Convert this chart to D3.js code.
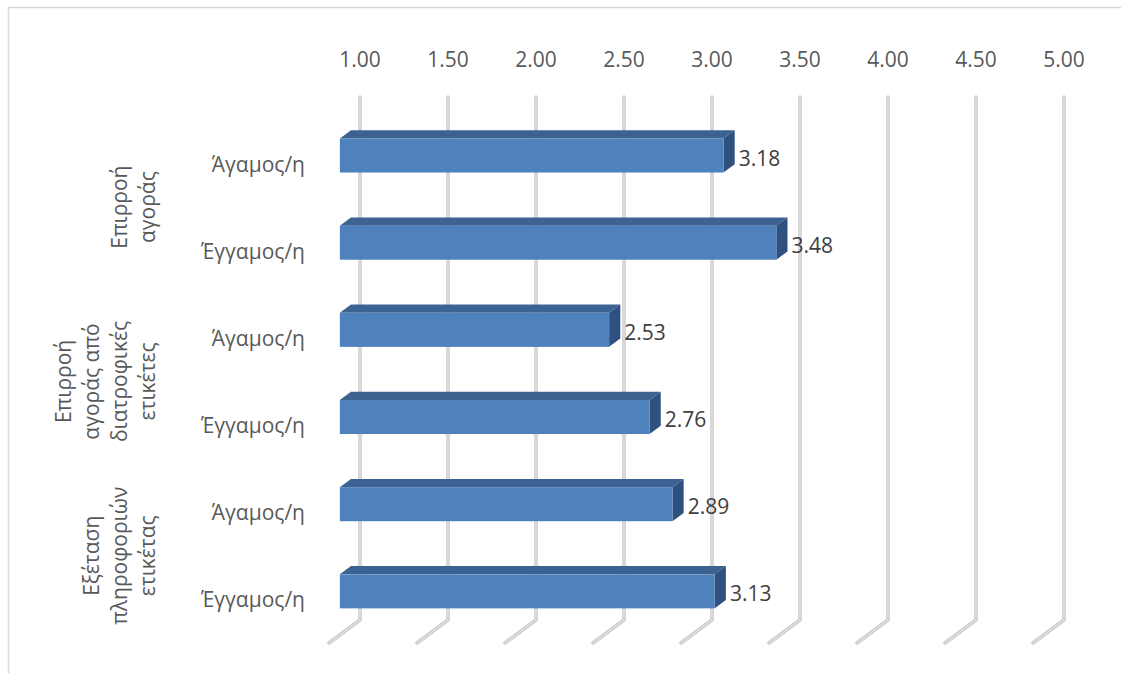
<!DOCTYPE html>
<html>
<head>
<meta charset="utf-8">
<script src="https://cdn.jsdelivr.net/npm/d3@7"></script>
<style>
  html, body { margin: 0; padding: 0; background: #fff; }
  svg { display: block; }
  text { font-family: "Open Sans", "Noto Sans", sans-serif; }
</style>
</head>
<body>
<svg id="chart" width="1121" height="673"></svg>
<script>
// Bars, top to bottom
const categories = ["Άγαμος/η", "Έγγαμος/η", "Άγαμος/η", "Έγγαμος/η", "Άγαμος/η", "Έγγαμος/η"];
const values = [3.18, 3.48, 2.53, 2.76, 2.89, 3.13];
// Group captions, each covering two consecutive bars
const groupLabels = [
  ["Επιρροή", "αγοράς"],
  ["Επιρροή", "αγοράς από", "διατροφικές", "ετικέτες"],
  ["Εξέταση", "πληροφοριών", "ετικέτας"]
];
const tickValues = [1.0, 1.5, 2.0, 2.5, 3.0, 3.5, 4.0, 4.5, 5.0];

const FONT = 21;
const svg = d3.select("#chart");

// Chart-area frame
svg.append("rect")
  .attr("x", 8.5).attr("y", 7.5)
  .attr("width", 1140).attr("height", 700)
  .attr("fill", "none").attr("stroke", "#d9d9d9").attr("stroke-width", 1.5);

// Scales on the back wall of the 3-D plot
const x = d3.scaleLinear().domain([1, 5]).range([360, 1064]);
const y = d3.scaleBand().domain(d3.range(categories.length)).range([97, 620]);

// Oblique depth: moving toward the viewer shifts left and down
const depth = t => [-31 * t, 23 * t];
const FRONT = 0.65, BACK = 0.29;
const barH = y.bandwidth() * 0.39;

// Gridlines: vertical on the back wall, then along the floor toward the viewer
const grid = svg.append("g");
tickValues.forEach(v => {
  const gx = x(v), top = y.range()[0], bot = y.range()[1];
  const [dx, dy] = depth(1);
  const pts = [[gx, top], [gx, bot], [gx + dx, bot + dy]];
  grid.append("polyline").attr("points", pts.join(" "))
    .attr("fill", "none").attr("stroke", "#c9c9c9").attr("stroke-width", 3.5)
    .attr("stroke-linecap", "round").attr("stroke-linejoin", "round");
  grid.append("polyline").attr("points", pts.join(" "))
    .attr("fill", "none").attr("stroke", "#e4e4e4").attr("stroke-width", 1.2)
    .attr("stroke-linecap", "round").attr("stroke-linejoin", "round");
});

// Top axis tick labels
svg.append("g").selectAll("text").data(tickValues).join("text")
  .attr("x", d => x(d)).attr("y", 67)
  .attr("text-anchor", "middle")
  .attr("font-size", FONT).attr("fill", "#595959")
  .text(d => d3.format(".2f")(d));

// 3-D bars
const [fdx, fdy] = depth(FRONT);
const [bdx, bdy] = depth(BACK);
const bars = svg.append("g");
values.forEach((v, i) => {
  const cy = y(i) + y.bandwidth() / 2;
  const fx0 = x(1) + fdx, fx1 = x(v) + fdx;
  const fy0 = cy + fdy - barH / 2, fy1 = cy + fdy + barH / 2;
  const bx0 = x(1) + bdx, bx1 = x(v) + bdx;
  const by0 = cy + bdy - barH / 2, by1 = cy + bdy + barH / 2;
  // top face
  bars.append("polygon")
    .attr("points", [[fx0, fy0], [bx0, by0], [bx1, by0], [fx1, fy0]].join(" "))
    .attr("fill", "#3c6291");
  // end face
  bars.append("polygon")
    .attr("points", [[fx1, fy0], [bx1, by0], [bx1, by1], [fx1, fy1]].join(" "))
    .attr("fill", "#2f5180");
  // front face
  bars.append("rect")
    .attr("x", fx0).attr("y", fy0)
    .attr("width", fx1 - fx0).attr("height", fy1 - fy0)
    .attr("fill", "#4f81bd");
  // value label
  bars.append("text")
    .attr("x", bx1 + 4).attr("y", cy + fdy + 2)
    .attr("dominant-baseline", "central")
    .attr("font-size", FONT).attr("fill", "#404040")
    .text(d3.format(".2f")(v));
});

// Category labels
const frontCenter = i => y(i) + y.bandwidth() / 2 + fdy;
svg.append("g").selectAll("text").data(categories).join("text")
  .attr("x", 305).attr("y", (d, i) => frontCenter(i) + 8)
  .attr("text-anchor", "end").attr("dominant-baseline", "central")
  .attr("font-size", FONT).attr("fill", "#595959")
  .text(d => d);

// Rotated group captions
const LINE = 28, LAST_X = 147;
groupLabels.forEach((lines, g) => {
  const cy = (frontCenter(2 * g) + frontCenter(2 * g + 1)) / 2 + 8;
  const firstX = LAST_X - (lines.length - 1) * LINE;
  const t = svg.append("text")
    .attr("transform", `translate(${firstX},${cy}) rotate(-90)`)
    .attr("text-anchor", "middle").attr("dominant-baseline", "central")
    .attr("font-size", FONT).attr("fill", "#595959");
  lines.forEach((s, k) => {
    t.append("tspan").attr("x", 0).attr("y", k * LINE).text(s);
  });
});
</script>
</body>
</html>
